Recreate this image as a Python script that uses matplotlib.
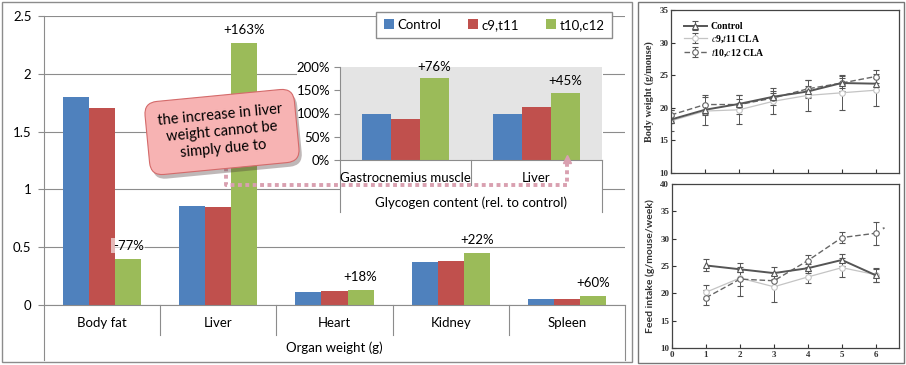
import matplotlib
matplotlib.use("Agg")
import matplotlib.pyplot as plt
import matplotlib.patheffects as pe
import matplotlib.transforms as mtransforms
from matplotlib.lines import Line2D
from matplotlib.patches import Rectangle
from matplotlib.ticker import FuncFormatter

W, H = 906, 365

# organ weights (g)
organs = ["Body fat", "Liver", "Heart", "Kidney", "Spleen"]
series = ["Control", "c9,t11", "t10,c12"]
control = [1.80, 0.86, 0.11, 0.37, 0.05]
c9t11 = [1.70, 0.85, 0.12, 0.38, 0.05]
t10c12 = [0.40, 2.27, 0.13, 0.45, 0.08]
organ_change = ["-77%", "+163%", "+18%", "+22%", "+60%"]

# glycogen content relative to control
glyco_cats = ["Gastrocnemius muscle", "Liver"]
glyco_control = [1.00, 1.00]
glyco_c9t11 = [0.88, 1.13]
glyco_t10c12 = [1.76, 1.45]
glyco_change = ["+76%", "+45%"]

# body weight (g/mouse) by week
bw_weeks = [0, 1, 2, 3, 4, 5, 6]
bw_control = [18.2, 19.7, 20.6, 21.7, 22.5, 23.8, 23.7]
bw_c9 = [18.0, 19.5, 19.7, 21.0, 21.9, 22.3, 22.7]
bw_t10 = [18.9, 20.5, 20.5, 21.5, 22.9, 23.8, 24.8]
bw_control_err = [0.6, 0.8, 0.8, 0.6, 0.9, 0.8, 0.9]
bw_c9_err = [1.6, 2.2, 2.2, 2.0, 2.4, 2.6, 2.5]
bw_t10_err = [0.8, 1.5, 1.5, 1.1, 1.4, 1.3, 1.0]

# feed intake (g/mouse/week) by week
fi_weeks = [1, 2, 3, 4, 5, 6]
fi_control = [25.1, 24.4, 23.7, 24.6, 26.1, 23.3]
fi_c9 = [20.2, 22.8, 21.2, 23.0, 24.7, 23.4]
fi_t10 = [19.2, 22.6, 22.3, 26.0, 30.2, 31.0]
fi_control_err = [1.1, 0.5, 1.1, 0.8, 1.1, 1.2]
fi_c9_err = [1.3, 1.5, 2.7, 1.1, 1.7, 1.3]
fi_t10_err = [1.4, 3.0, 1.0, 1.1, 1.0, 2.1]

BLUE, RED, GREEN = "#4F81BD", "#C0504D", "#9BBB59"
GRID = "#8c8c8c"
PINK = "#d9a0b0"
XL = ["Lato", "DejaVu Sans"]
SERIF = ["Liberation Serif", "DejaVu Serif"]
plt.rcParams["font.family"] = XL
plt.rcParams["mathtext.fontset"] = "stix"


def rect(x0, y0, x1, y1):
    return [x0 / W, 1 - y1 / H, (x1 - x0) / W, (y1 - y0) / H]


def fp(x, y):
    return (x / W, 1 - y / H)


fig = plt.figure(figsize=(W / 100, H / 100), dpi=100)

# ---------------- main bar chart ----------------
ax = fig.add_axes(rect(44, 16, 625, 305))
bw = 0.224
xs = range(len(organs))
cols = [BLUE, RED, GREEN]
for k, (vals, c, lab) in enumerate(zip([control, c9t11, t10c12], cols, series)):
    ax.bar([x + (k - 1) * bw for x in xs], vals, width=bw, color=c, label=lab, zorder=2)
for x, v, t in zip(xs, t10c12, organ_change):
    kw = {}
    if t.startswith("-"):
        kw = dict(bbox=dict(boxstyle="square,pad=0.1", fc="white", ec="none", alpha=0.6))
    ax.annotate(t, (x + bw, v), xytext=(0, 5), textcoords="offset points",
                ha="center", va="bottom", fontsize=9.5, zorder=3, **kw)
ax.set_xlim(-0.5, len(organs) - 0.5)
ax.set_ylim(0, 2.5)
ax.set_yticks([0, 0.5, 1, 1.5, 2, 2.5])
ax.yaxis.set_major_formatter(FuncFormatter(lambda v, p: "%g" % v))
ax.yaxis.grid(True, color=GRID, lw=0.8)
ax.set_axisbelow(True)
ax.set_xticks([])
for s in ["top", "right"]:
    ax.spines[s].set_visible(False)
for s in ["left", "bottom"]:
    ax.spines[s].set_color(GRID)
ax.tick_params(axis="y", length=4, color=GRID, labelsize=9.5, pad=5)

tb = mtransforms.blended_transform_factory(ax.transData, ax.transAxes)
for i in range(len(organs) + 1):
    b = i - 0.5
    low = -55 / 289 if i in (0, len(organs)) else -30 / 289
    ax.plot([b, b], [0, low], transform=tb, color=GRID, lw=0.8, clip_on=False)
for i, name in enumerate(organs):
    ax.text(i, -18 / 289, name, transform=tb, ha="center", va="center", fontsize=9.5)
ax.text(2, -43 / 289, "Organ weight (g)", transform=tb, ha="center", va="center", fontsize=9.5)

ax.legend(loc="center", bbox_to_anchor=fp(494, 25), bbox_transform=fig.transFigure,
          ncol=3, fancybox=False, edgecolor=GRID, framealpha=1, fontsize=9.5,
          handlelength=0.8, handleheight=0.8, handletextpad=0.25, columnspacing=2.0,
          borderpad=0.55)

# ---------------- inset: glycogen ----------------
for r in [(297, 55, 603, 160), (340, 160, 603, 213)]:
    fig.add_artist(Rectangle(fp(r[0], r[3]), (r[2] - r[0]) / W, (r[3] - r[1]) / H,
                             transform=fig.transFigure, fc="white", ec="none", zorder=1))
ins = fig.add_axes(rect(340, 67, 602, 160), facecolor="#e4e4e4")
ins.set_zorder(2)
gw = 0.22
for k, (vals, c) in enumerate(zip([glyco_control, glyco_c9t11, glyco_t10c12], cols)):
    ins.bar([x + (k - 1) * gw for x in range(2)], vals, width=gw, color=c, zorder=2)
for x, v, t in zip(range(2), glyco_t10c12, glyco_change):
    ins.annotate(t, (x + gw, v), xytext=(0, 4), textcoords="offset points",
                 ha="center", va="bottom", fontsize=9.5, annotation_clip=False)
ins.set_xlim(-0.5, 1.5)
ins.set_ylim(0, 2)
ins.set_yticks([0, 0.5, 1, 1.5, 2])
ins.yaxis.set_major_formatter(FuncFormatter(lambda v, p: "%d%%" % round(v * 100)))
ins.set_xticks([])
for s in ["top", "right"]:
    ins.spines[s].set_visible(False)
for s in ["left", "bottom"]:
    ins.spines[s].set_color(GRID)
ins.tick_params(axis="y", length=4, color=GRID, labelsize=9.5, pad=3)
ti = mtransforms.blended_transform_factory(ins.transData, ins.transAxes)
for i in range(3):
    b = i - 0.5
    low = -52 / 93 if i in (0, 2) else -25 / 93
    ins.plot([b, b], [0, low], transform=ti, color=GRID, lw=0.8, clip_on=False)
for i, name in enumerate(glyco_cats):
    ins.text(i, -18 / 93, name, transform=ti, ha="center", va="center", fontsize=9.5)
ins.text(0.5, -43 / 93, "Glycogen content (rel. to control)", transform=ti,
         ha="center", va="center", fontsize=9.5)

# dotted connector from callout to the liver glycogen bar
pts = [fp(226, 160), fp(226, 185), fp(567, 185), fp(567, 162)]
fig.add_artist(Line2D([p[0] for p in pts], [p[1] for p in pts], transform=fig.transFigure,
                      color=PINK, lw=2.8, ls=(0, (1, 0.9)), zorder=4))
fig.add_artist(Line2D([fp(567, 159)[0]], [fp(567, 159)[1]], transform=fig.transFigure,
                      marker="^", ms=6, color=PINK, zorder=4))

# callout
ct = fig.text(*fp(222, 132), "the increase in liver\nweight cannot be\nsimply due to",
              ha="center", va="center", rotation=5.5, fontsize=10.5, linespacing=1.3,
              zorder=6, multialignment="center",
              bbox=dict(boxstyle="round,pad=0.85,rounding_size=0.9", fc="#f7b3b3",
                        ec="#d46a6a", lw=0.8))
ct.get_bbox_patch().set_path_effects([pe.SimplePatchShadow(offset=(2, -3), alpha=0.35),
                                      pe.Normal()])

# chart borders
fig.add_artist(Rectangle(fp(2, 362), 630 / W, 360 / H, transform=fig.transFigure,
                         fill=False, ec=GRID, lw=1, zorder=0))
fig.add_artist(Rectangle(fp(638, 363), 266 / W, 361 / H, transform=fig.transFigure,
                         fill=False, ec="#777777", lw=1, zorder=0))

# ---------------- right panels ----------------
def style_paper(a, ylo, yhi, xlabels):
    a.set_xlim(0, 6.68)
    a.set_ylim(ylo, yhi)
    a.set_xticks(range(7))
    a.set_yticks(range(ylo, yhi + 1, 5))
    if not xlabels:
        a.set_xticklabels([])
    a.tick_params(direction="in", length=3, width=0.8, labelsize=6.5, pad=2, color="#333")
    for lab in a.get_xticklabels() + a.get_yticklabels():
        lab.set_family(SERIF)
        lab.set_fontweight("bold")
        lab.set_color("#333")
    for s in a.spines.values():
        s.set_color("#444")
        s.set_linewidth(0.9)


r1 = fig.add_axes(rect(671, 10, 899, 173))
eb = dict(capsize=2, elinewidth=0.7, capthick=0.7, ms=4, mfc="white", mew=0.8)
r1.errorbar(bw_weeks, bw_c9, yerr=bw_c9_err, color="#c4c4c4", ecolor="#555", marker="o",
            lw=0.9, label=r"$\it{c}$9,$\it{t}$11 CLA", **eb)
r1.errorbar(bw_weeks, bw_t10, yerr=bw_t10_err, color="#666", ecolor="#555", marker="o",
            lw=1.0, ls=(0, (4, 2)), label=r"$\it{t}$10,$\it{c}$12 CLA", **eb)
r1.errorbar(bw_weeks, bw_control, yerr=bw_control_err, color="#555", ecolor="#555",
            marker="^", lw=1.4, label="Control", **eb)
style_paper(r1, 10, 35, False)
r1.set_ylabel("Body weight (g/mouse)", family=SERIF, fontsize=7.5, fontweight="bold",
              color="#333", labelpad=4)
hs, ls = r1.get_legend_handles_labels()
order = [2, 0, 1]
r1.legend([hs[i] for i in order], [ls[i] for i in order], loc="upper left",
          bbox_to_anchor=(0.02, 0.98), frameon=False, handlelength=2.3,
          labelspacing=0.25, handletextpad=0.4,
          prop=dict(family=SERIF, size=7, weight="bold"))

r2 = fig.add_axes(rect(672, 184, 899, 348))
r2.errorbar(fi_weeks, fi_c9, yerr=fi_c9_err, color="#c4c4c4", ecolor="#555", marker="o",
            lw=0.9, **eb)
r2.errorbar(fi_weeks, fi_t10, yerr=fi_t10_err, color="#666", ecolor="#555", marker="o",
            lw=1.0, ls=(0, (4, 2)), **eb)
r2.errorbar(fi_weeks, fi_control, yerr=fi_control_err, color="#555", ecolor="#555",
            marker="^", lw=1.4, **eb)
r2.annotate("*", (fi_weeks[-1], fi_t10[-1]), xytext=(4, 0), textcoords="offset points",
            fontsize=6, color="#333", va="bottom")
style_paper(r2, 10, 40, True)
r2.set_ylabel("Feed intake (g/mouse/week)", fontsize=7.5, fontweight="bold",
              color="#333", labelpad=4)

fig.savefig("out.png", dpi=100)
